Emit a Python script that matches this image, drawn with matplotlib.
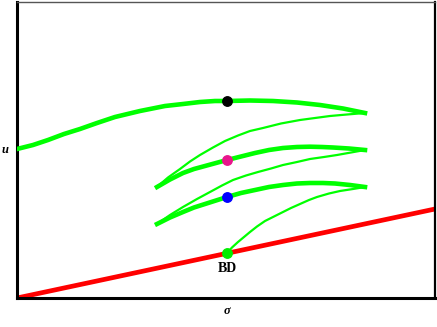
import matplotlib
matplotlib.use("Agg")
import matplotlib.pyplot as plt

# Branch coordinates (abstract units: sigma along x, u along y)
top_x = [0, 16, 31, 47, 63, 80, 98, 123, 148, 166, 183, 198, 210, 233, 256, 280, 303, 326, 348]
top_y = [149, 153, 158, 164, 169, 175, 181, 187, 192, 194, 196, 197, 197, 197.5, 197, 195.5, 193, 189.5, 185]

thin1_x = [348, 330, 313, 298, 283, 264, 246, 233, 221, 208, 196, 183, 173, 163, 151, 140]
thin1_y = [185, 183.5, 182, 180, 178, 174.5, 170, 167, 162.5, 157, 150.5, 143, 136.5, 129, 120.5, 111]

mid_x = [140, 153, 166, 177, 188, 199, 210, 224, 238, 252, 266, 280, 293, 305, 316, 332, 348]
mid_y = [111, 118.5, 125, 129, 132, 135, 138, 141.5, 145, 148, 150, 151, 151.3, 151, 150.5, 149.5, 148]

thin2_x = [348, 334, 320, 307, 293, 280, 266, 254, 241, 229, 216, 205, 193, 180, 166, 153, 140]
thin2_y = [148, 145.5, 143, 141, 139, 136, 133, 129.5, 126, 122.5, 118, 112.5, 106, 99, 91, 83, 74]

low_x = [140, 153, 166, 177, 188, 199, 210, 224, 238, 252, 266, 280, 293, 306, 318, 333, 348]
low_y = [74, 80.5, 86, 90.5, 94, 97.5, 101, 105, 108, 111, 113, 114.5, 115, 115, 114.5, 113, 111]

thin3_x = [348, 336, 323, 312, 300, 292, 283, 274, 266, 257, 248, 240, 233, 227, 221, 215, 210]
thin3_y = [111, 109, 107, 104.5, 101, 98, 94, 90, 86, 81.5, 77, 71.5, 66, 61, 56, 50.5, 45]

red_x = [0, 418]
red_y = [0, 89]

dot_x = [210, 210, 210, 210]
dot_y = [197, 138, 101, 45]
dot_colors = ["#000000", "#e8168c", "#0000ff", "#00ee00"]

fig = plt.figure(figsize=(4.37, 3.27), dpi=100)
ax = fig.add_axes([17/437, 29/327, 418/437, 296/327])
ax.set_xlim(0, 418)
ax.set_ylim(0, 296)

green = "#00ff00"
ax.plot(red_x, red_y, color="#ff0000", lw=3.4, solid_capstyle="butt", zorder=2)
for xs, ys in [(top_x, top_y), (mid_x, mid_y), (low_x, low_y)]:
    ax.plot(xs, ys, color=green, lw=3.3, zorder=3, solid_joinstyle="round")
for xs, ys in [(thin1_x, thin1_y), (thin2_x, thin2_y), (thin3_x, thin3_y)]:
    ax.plot(xs, ys, color=green, lw=1.6, zorder=3, solid_joinstyle="round")

for x, y, c in zip(dot_x, dot_y, dot_colors):
    ax.plot([x], [y], "o", color=c, ms=6.8, zorder=4)

ax.text(210, 30, "BD", ha="center", va="center", fontsize=10, fontweight="bold",
        family="Liberation Serif")

ax.set_xticks([])
ax.set_yticks([])
for s in ["left", "bottom"]:
    ax.spines[s].set_linewidth(2.2)
    ax.spines[s].set_color("black")
ax.spines["right"].set_linewidth(1.6)
ax.spines["top"].set_linewidth(1.0)
ax.spines["top"].set_color("#555555")

fig.text(5/437, 1 - 150/327, "u", ha="center", va="center", fontsize=9,
         style="italic", family="Liberation Serif", fontweight="bold")
fig.text(227/437, 1 - 311/327, "σ", ha="center", va="center", fontsize=9,
         style="italic", family="Liberation Serif", fontweight="bold")

fig.savefig("out.png", dpi=100)
